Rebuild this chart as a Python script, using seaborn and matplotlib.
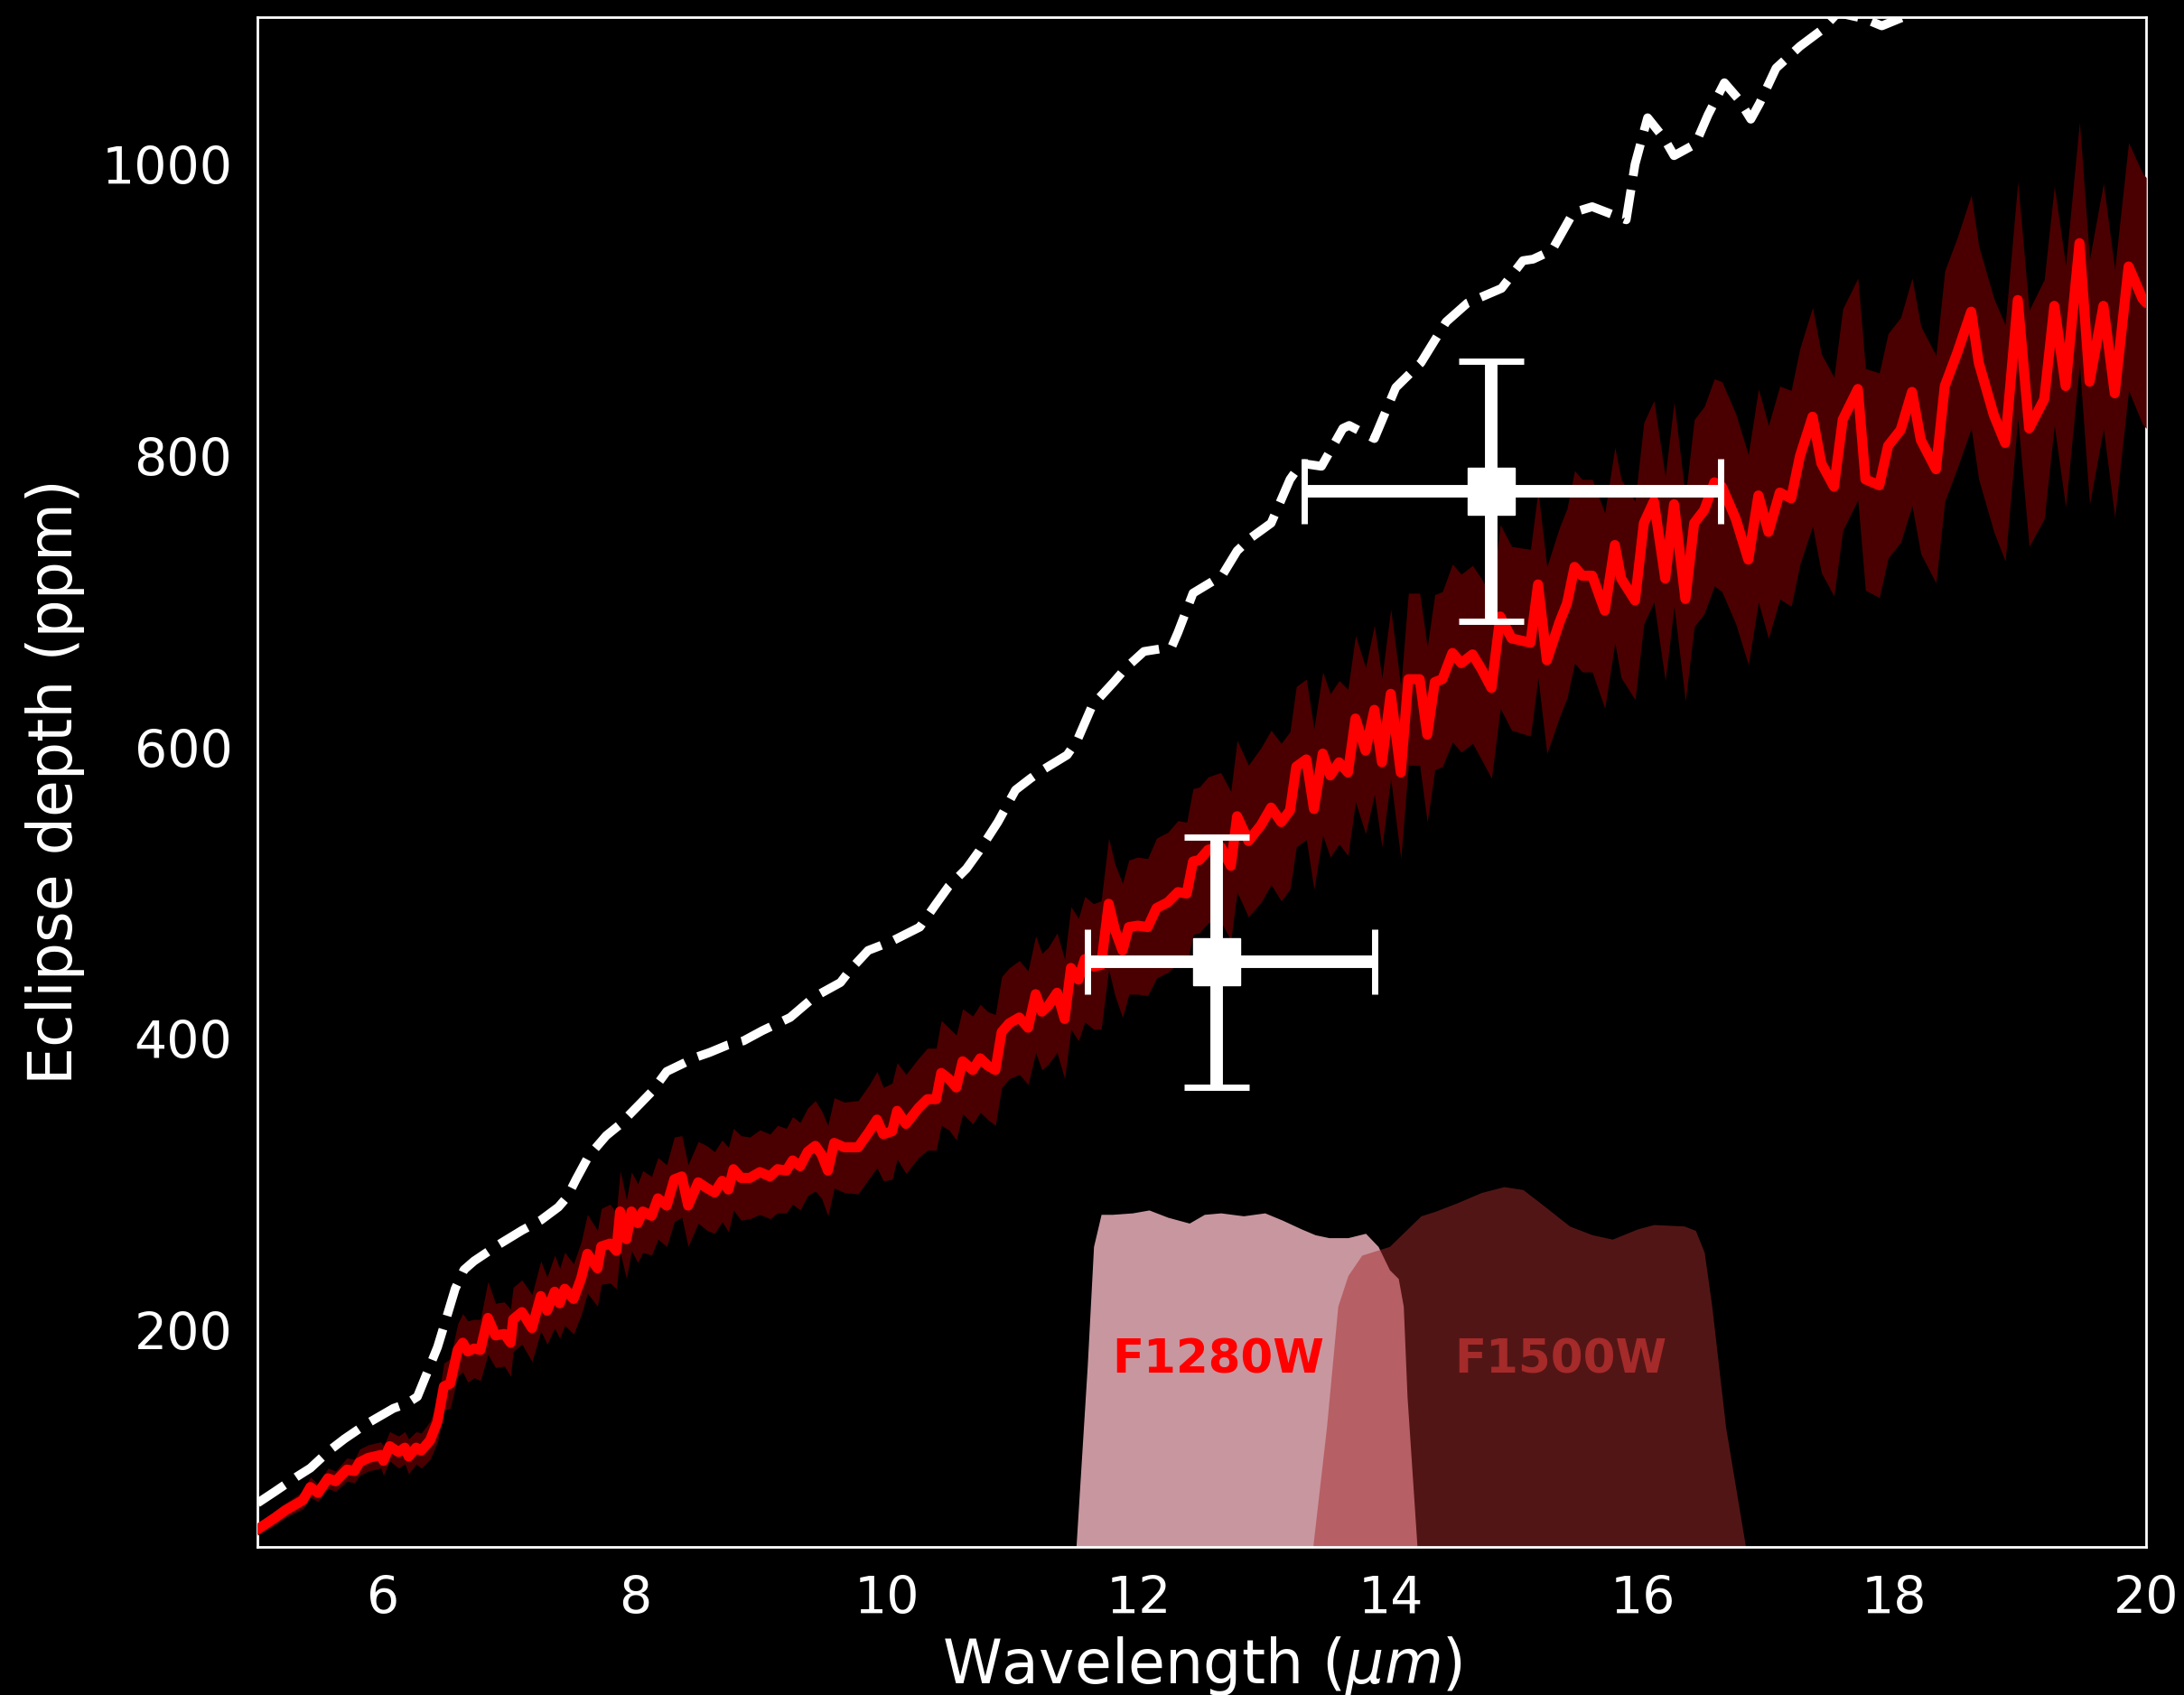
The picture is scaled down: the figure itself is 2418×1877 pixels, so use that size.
import numpy as np
import pandas as pd
import matplotlib
matplotlib.use("Agg")
import matplotlib.pyplot as plt
import seaborn as sns

# ---------------- data ----------------
model_wl = [
    5.00, 5.14, 5.22, 5.36, 5.42, 5.48,
    5.56, 5.62, 5.71, 5.77, 5.81, 5.88, 5.98, 6.00,
    6.05, 6.12, 6.17, 6.20, 6.26, 6.30, 6.37,
    6.43, 6.48, 6.53, 6.59, 6.63, 6.67, 6.72, 6.77,
    6.83, 6.89, 6.96, 7.01, 7.03, 7.10, 7.18, 7.25, 7.30, 7.36, 7.40, 7.44, 7.51,
    7.57, 7.62, 7.70, 7.73, 7.80, 7.85, 7.88, 7.93, 7.97, 8.02, 8.06, 8.13, 8.18, 8.25, 8.31, 8.37, 8.42, 8.50, 8.57, 8.63,
    8.69, 8.74, 8.78, 8.84, 8.91, 8.99, 9.07, 9.13, 9.20, 9.25, 9.31, 9.37, 9.43, 9.48, 9.53, 9.58,
    9.66, 9.77, 9.86, 9.92, 9.97, 10.04, 10.08, 10.15, 10.25, 10.32, 10.39, 10.43, 10.49, 10.55,
    10.60, 10.68, 10.74, 10.80, 10.86, 10.91, 10.97, 11.05, 11.12, 11.18, 11.23, 11.28, 11.35, 11.41, 11.46,
    11.52, 11.57, 11.64, 11.70, 11.76, 11.81, 11.87, 11.92, 11.99, 12.07, 12.14, 12.23, 12.31, 12.38, 12.43, 12.48,
    12.55, 12.65, 12.73, 12.78, 12.87, 12.97, 13.05, 13.13, 13.20, 13.25, 13.33, 13.39, 13.46, 13.52,
    13.59, 13.66, 13.72, 13.80, 13.87, 13.93, 14.00, 14.08, 14.14, 14.23, 14.29, 14.35, 14.41, 14.49, 14.56,
    14.65, 14.72, 14.80, 14.87, 14.96, 15.11, 15.17, 15.24, 15.34, 15.40, 15.46, 15.52, 15.60,
    15.70, 15.78, 15.83, 15.94, 16.01, 16.09, 16.18, 16.25,
    16.34, 16.41, 16.49, 16.57, 16.63, 16.74, 16.84, 16.92, 17.00, 17.09, 17.18,
    17.25, 17.35, 17.42, 17.52, 17.59, 17.71, 17.77, 17.88, 17.95, 18.05, 18.14, 18.21,
    18.33, 18.40, 18.50, 18.61, 18.67, 18.79, 18.88, 18.98, 19.07, 19.19,
    19.27, 19.36, 19.47, 19.55, 19.66, 19.75, 19.86, 19.97, 20.00,
]
model_depth = [
    64, 72, 77, 84, 93, 89,
    99, 97, 105, 104, 110, 113, 115, 111,
    121, 117, 120, 114, 120, 118, 125,
    138, 162, 164, 187, 192, 186, 188, 187,
    209, 197, 198, 192, 208, 213, 202, 224, 214, 227, 219, 229, 222,
    236, 253, 243, 258, 260, 255, 282, 263, 282, 274, 282, 279, 291, 286, 304, 306, 286, 302, 298, 295,
    303, 297, 311, 305, 305, 309, 306, 311, 310, 317, 313, 323, 327, 321, 310, 329,
    326, 326, 337, 345, 335, 337, 351, 342, 353, 359, 359, 377, 373, 367,
    385, 379, 387, 382, 379, 405, 411, 415, 408, 431, 419, 423, 432, 414, 449,
    441, 455, 450, 451, 493, 475, 461, 477, 478, 477, 490, 494, 501, 500, 522, 523,
    530, 532, 519, 553, 536, 547, 559, 549, 557, 587, 592, 558, 596, 581,
    590, 583, 620, 598, 626, 590, 637, 583, 647, 647, 609, 645, 647, 665, 658,
    664, 654, 641, 690, 675, 672, 712, 660, 686, 699, 724, 718, 718,
    694, 739, 716, 701, 754, 769, 716, 767,
    702, 754, 763, 782, 779, 757, 729, 773, 748, 775, 771,
    800, 827, 795, 779, 825, 846, 784, 780, 807, 818, 844, 811,
    791, 848, 871, 899, 864, 828, 809, 907, 819, 839,
    903, 848, 946, 851, 903, 843, 930, 908, 905,
]
model_halfwidth = [
    4, 5, 5, 6, 7, 6,
    7, 7, 8, 8, 9, 9, 9, 10,
    10, 11, 11, 12, 11, 12, 13,
    14, 16, 17, 18, 20, 21, 20, 21,
    25, 22, 22, 23, 22, 22, 23, 24, 23, 25, 24, 25, 24,
    25, 27, 26, 26, 27, 26, 28, 27, 27, 27, 28, 27, 28, 28, 29, 28, 28, 28, 29, 28,
    28, 29, 28, 29, 28, 29, 29, 30, 29, 30, 30, 30, 31, 30, 31, 31,
    31, 32, 32, 33, 32, 33, 33, 34, 34, 35, 35, 36, 35, 36,
    36, 37, 37, 37, 38, 38, 38, 39, 39, 40, 40, 40, 41, 41, 42,
    42, 43, 43, 44, 45, 45, 46, 46, 47, 47, 48, 48, 49, 49, 50, 50,
    50, 51, 51, 52, 52, 53, 53, 54, 54, 55, 55, 55, 56, 56,
    56, 57, 57, 57, 58, 58, 58, 59, 59, 59, 60, 60, 60, 61, 61,
    61, 62, 62, 63, 63, 64, 64, 64, 65, 65, 66, 66, 66,
    67, 67, 68, 68, 69, 69, 70, 70,
    70, 71, 71, 71, 72, 72, 72, 73, 73, 73, 74,
    74, 75, 75, 75, 76, 76, 76, 77, 77, 77, 78, 78,
    78, 79, 79, 80, 80, 80, 81, 81, 81, 82,
    82, 83, 83, 84, 84, 85, 85, 86, 86,
]

bb_wl = [
    5.00, 5.14, 5.31, 5.42, 5.57, 5.69, 5.86, 5.98, 6.08, 6.18, 6.27, 6.35, 6.43, 6.49, 6.57,
    6.64, 6.72, 6.91, 7.10, 7.25, 7.39, 7.46, 7.53, 7.63, 7.77, 7.87, 8.04, 8.13, 8.25, 8.37,
    8.49, 8.59, 8.73, 8.86, 9.01, 9.23, 9.42, 9.63, 9.71, 9.85, 10.03, 10.26, 10.39, 10.49,
    10.63, 10.73, 10.88, 11.02, 11.14, 11.24, 11.43, 11.51, 11.63, 11.80, 11.90, 12.04, 12.26,
    12.31, 12.43, 12.66, 12.78, 12.89, 13.05, 13.20, 13.29, 13.45, 13.62, 13.67, 13.87, 14.04,
    14.24, 14.44, 14.61, 14.88, 15.05, 15.13, 15.28, 15.45, 15.60, 15.87, 15.94, 16.04, 16.17,
    16.25, 16.42, 16.52, 16.65, 16.76, 16.86, 16.93, 17.06, 17.25, 17.42, 17.55, 17.76, 17.90,
    18.07, 18.30, 18.60,
]
bb_depth = [
    82, 90, 100, 106, 118, 126, 136, 142, 147, 150, 155, 172, 189, 206, 229,
    242, 248, 259, 269, 276, 285, 292, 304, 320, 334, 341, 356, 364, 378, 383,
    388, 391, 396, 399, 406, 415, 429, 439, 448, 461, 467, 477, 493, 505,
    517, 529, 549, 571, 579, 585, 595, 605, 629, 645, 655, 666, 669,
    679, 706, 718, 735, 744, 754, 784, 795, 793, 819, 821, 812, 847,
    864, 892, 905, 915, 934, 935, 941, 967, 971, 962, 1000, 1032, 1018,
    1006, 1014, 1034, 1056, 1045, 1031, 1042, 1066, 1081, 1092, 1104, 1100, 1095,
    1101, 1120, 1140,
]

obs_wl = [12.62, 14.80]
obs_wl_lo = [1.03, 1.49]
obs_wl_hi = [1.25, 1.82]
obs_depth = [453, 776]
obs_err = [86, 89]

f1280_wl = [11.46, 11.50, 11.59, 11.64, 11.70, 11.79, 11.95, 12.08, 12.23, 12.40, 12.52, 12.65,
            12.83, 13.00, 13.14, 13.29, 13.40, 13.51, 13.66, 13.80, 13.90, 13.99, 14.06, 14.10,
            14.13, 14.21, 14.24]
f1280_val = [0, 51, 176, 258, 280, 280, 281, 283, 278, 274, 280, 281,
             279, 281, 276, 270, 266, 264, 264, 267, 258, 242, 236, 217,
             155, 51, 0]
f1500_wl = [13.31, 13.38, 13.49, 13.58, 13.66, 13.77, 13.99, 14.24, 14.35, 14.53, 14.72, 14.90,
            15.05, 15.23, 15.42, 15.60, 15.76, 15.96, 16.09, 16.33, 16.42, 16.49, 16.55, 16.66,
            16.82, 16.85]
f1500_val = [0, 51, 134, 217, 238, 252, 258, 279, 282, 288, 295, 299,
             297, 285, 272, 266, 263, 270, 273, 272, 269, 254, 217, 134,
             51, 0]

filter_names = ["F1280W", "F1500W"]
filter_label_x = [12.63, 15.35]
filter_label_y = 180

x_ticks = [6, 8, 10, 12, 14, 16, 18, 20]
y_ticks = [200, 400, 600, 800, 1000]

# ---------------- style ----------------
sns.set_theme(style="white", rc={
    "figure.facecolor": "black",
    "axes.facecolor": "black",
    "axes.edgecolor": "white",
    "axes.labelcolor": "white",
    "xtick.color": "white",
    "ytick.color": "white",
    "text.color": "white",
    "axes.linewidth": 2,
})
plt.rcParams["font.family"] = ["DejaVu Sans"]
plt.rcParams["mathtext.fontset"] = "dejavusans"

fig = plt.figure(figsize=(24.18, 18.77), dpi=100, facecolor="black")
ax = fig.add_axes([0.1179, 0.0874, 0.8648, 0.9025])
ax.set_facecolor("black")

model_df = pd.DataFrame({"wl": model_wl, "depth": model_depth, "hw": model_halfwidth})
bb_df = pd.DataFrame({"wl": bb_wl, "depth": bb_depth})

# filter throughputs
ax.fill_between(f1280_wl, 0, f1280_val, color="pink", alpha=0.79, lw=0, zorder=1)
ax.fill_between(f1500_wl, 0, f1500_val, color="brown", alpha=0.5, lw=0, zorder=1.1)

ax.text(filter_label_x[0], filter_label_y, filter_names[0], color="red", fontsize=37,
        fontweight="bold", ha="center", va="center", zorder=2)
ax.text(filter_label_x[1], filter_label_y, filter_names[1], color="brown", fontsize=37,
        fontweight="bold", ha="center", va="center", zorder=2)

# model band and line
ax.fill_between(model_df["wl"], model_df["depth"] - model_df["hw"], model_df["depth"] + model_df["hw"],
                color=(0.29, 0.0, 0.0), lw=0, zorder=3)
sns.lineplot(data=model_df, x="wl", y="depth", color="red", lw=8, ax=ax, zorder=4, sort=False)
sns.lineplot(data=bb_df, x="wl", y="depth", color="white", lw=7, linestyle="--", ax=ax, zorder=4, sort=False)

# observations
ax.errorbar(obs_wl, obs_depth, xerr=[obs_wl_lo, obs_wl_hi], yerr=[obs_err, obs_err],
            fmt="s", color="white", ms=38, elinewidth=10, capsize=26, capthick=5, zorder=6)

ax.set_xlim(5, 20)
ax.set_ylim(52, 1101)
ax.set_xticks(x_ticks)
ax.set_yticks(y_ticks)
ax.tick_params(axis="both", length=0, labelsize=41, colors="white")
ax.tick_params(axis="x", pad=22)
ax.tick_params(axis="y", pad=20)
ax.set_xlabel(r"Wavelength ($\mu m$)", fontsize=48, color="white", labelpad=8)
ax.set_ylabel("Eclipse depth (ppm)", fontsize=48, color="white", labelpad=13)
for s in ax.spines.values():
    s.set_color("white")
    s.set_linewidth(2)

fig.savefig("out.png", dpi=100, facecolor="black")
